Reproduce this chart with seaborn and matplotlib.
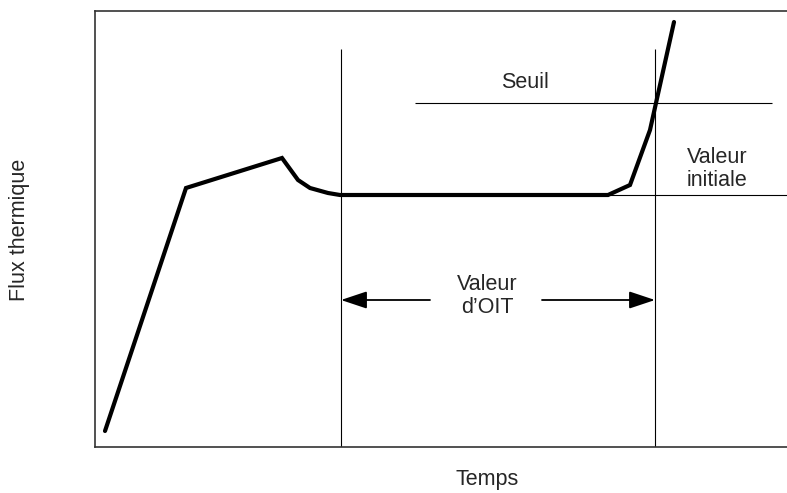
import numpy as np
import pandas as pd
import matplotlib
matplotlib.use("Agg")
import matplotlib.pyplot as plt
import seaborn as sns

sns.set_style("white")
plt.rcParams["font.family"] = ["Liberation Sans", "DejaVu Sans"]

# curve (arbitrary time / heat-flow units)
temps = [10, 91, 187, 203, 215, 233, 245, 513, 535, 555, 579]
flux = [16, 259, 289, 267, 259, 254, 252, 252, 262, 317, 425]

oit_start = 246
oit_end = 560
seuil = 344
valeur_initiale = 252
vline_top = 398
arrow_y = 147

df = pd.DataFrame({"temps": temps, "flux": flux})

fig = plt.figure(figsize=(7.87, 4.93), dpi=100)
ax = fig.add_axes([95 / 787, 1 - 447 / 493, 1 - 95 / 787, 436 / 493])

sns.lineplot(data=df, x="temps", y="flux", ax=ax, color="black", linewidth=3,
             sort=False, solid_joinstyle="miter")

ax.vlines([oit_start, oit_end], 0, vline_top, color="black", linewidth=0.8)
ax.hlines(seuil, 320, 677, color="black", linewidth=0.8)
ax.hlines(valeur_initiale, 515, 692, color="black", linewidth=0.8)

arrow = dict(arrowstyle="-|>,head_length=0.57,head_width=0.19", color="black",
             linewidth=1.3, mutation_scale=28, shrinkA=0, shrinkB=0)
ax.annotate("", xy=(oit_start, arrow_y), xytext=(335, arrow_y), arrowprops=arrow)
ax.annotate("", xy=(oit_end, arrow_y), xytext=(447, arrow_y), arrowprops=arrow)

fs = 15.5
ax.text(392, 151, "Valeur\nd\u2019OIT", ha="center", va="center", fontsize=fs,
        linespacing=1.12)
ax.text(430, 364, "Seuil", ha="center", va="center", fontsize=fs)
ax.text(622, 278, "Valeur\ninitiale", ha="center", va="center", fontsize=fs,
        linespacing=1.12)

ax.set_xlim(0, 692)
ax.set_ylim(0, 436)
ax.set_xticks([])
ax.set_yticks([])
ax.set_xlabel("")
ax.set_ylabel("")
ax.spines["right"].set_visible(False)
for s in ["left", "top", "bottom"]:
    ax.spines[s].set_color("#333333")
    ax.spines[s].set_linewidth(1.2)

fig.text(20 / 787, 1 - 230 / 493, "Flux thermique", rotation=90, ha="center",
         va="center", fontsize=fs)
fig.text(487 / 787, 1 - 480 / 493, "Temps", ha="center", va="center", fontsize=fs)

fig.savefig("out.png", dpi=100)
